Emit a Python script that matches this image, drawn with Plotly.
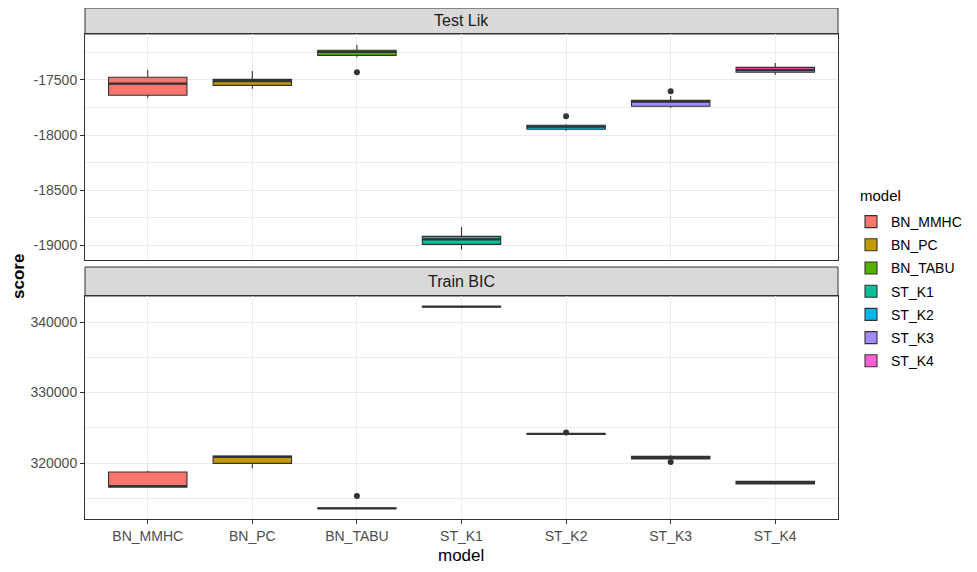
import plotly.graph_objects as go

models = ["BN_MMHC", "BN_PC", "BN_TABU", "ST_K1", "ST_K2", "ST_K3", "ST_K4"]
colors = ["#F8766D", "#C49A00", "#53B400", "#00C094", "#00B6EB", "#A58AFF", "#FB61D7"]

# Test Lik panel box statistics
lik_lf = [-17661, -17579, -17294, -19043, -17961, -17752, -17452]
lik_q1 = [-17639, -17549, -17276, -18994, -17948, -17739, -17430]
lik_med = [-17533, -17509, -17245, -18948, -17924, -17697, -17409]
lik_q3 = [-17475, -17494, -17230, -18921, -17912, -17685, -17385]
lik_uf = [-17409, -17418, -17182, -18836, -17903, -17645, -17345]
lik_out_model = ["BN_TABU", "ST_K2", "ST_K3"]
lik_out_value = [-17430, -17830, -17603]

# Train BIC panel box statistics
bic_lf = [316560, 319240, 313530, 342110, 324060, 320500, 317000]
bic_q1 = [316600, 319950, 313545, 342140, 324085, 320573, 317030]
bic_med = [316700, 320860, 313570, 342170, 324120, 320715, 317200]
bic_q3 = [318725, 321000, 313600, 342200, 324160, 320944, 317400]
bic_uf = [318900, 321000, 313620, 342270, 324220, 321140, 317430]
bic_out_model = ["BN_TABU", "ST_K2", "ST_K3"]
bic_out_value = [315330, 324330, 320148]

lik_ticks = [-19000, -18500, -18000, -17500]
lik_ticktext = ["-19000", "-18500", "-18000", "-17500"]
bic_ticks = [320000, 330000, 340000]
bic_ticktext = ["320000", "330000", "340000"]

panel_titles = ["Test Lik", "Train BIC"]

FONT = "Liberation Sans, Arial, sans-serif"
DARK = "#333333"
BOXW = 0.75

idx = {m: i for i, m in enumerate(models)}

fig = go.Figure()


def median_segments(meds):
    xs, ys = [], []
    for i, v in enumerate(meds):
        xs += [i - BOXW / 2, i + BOXW / 2, None]
        ys += [v, v, None]
    return xs, ys


panels = [
    (lik_lf, lik_q1, lik_med, lik_q3, lik_uf, lik_out_model, lik_out_value, "x", "y", True),
    (bic_lf, bic_q1, bic_med, bic_q3, bic_uf, bic_out_model, bic_out_value, "x2", "y2", False),
]

for lf, q1, med, q3, uf, om, ov, xa, ya, leg in panels:
    for i, m in enumerate(models):
        fig.add_trace(go.Box(
            x=[i], q1=[q1[i]], median=[med[i]], q3=[q3[i]],
            lowerfence=[lf[i]], upperfence=[uf[i]],
            name=m, legendgroup=m, showlegend=leg,
            fillcolor=colors[i], line=dict(color=DARK, width=1.1),
            whiskerwidth=0, width=BOXW, boxpoints=False,
            xaxis=xa, yaxis=ya, hoverinfo="skip",
        ))
    mx, my = median_segments(med)
    fig.add_trace(go.Scatter(x=mx, y=my, mode="lines", line=dict(color=DARK, width=2.3),
                             showlegend=False, xaxis=xa, yaxis=ya, hoverinfo="skip"))
    fig.add_trace(go.Scatter(x=[idx[m] for m in om], y=ov, mode="markers",
                             marker=dict(color=DARK, size=6), showlegend=False,
                             xaxis=xa, yaxis=ya, hoverinfo="skip"))

# pixel layout helpers (page has an 8px body margin)
OFF = 8
W, H = 977, 572
mt, mb, ml, mr = 0, 61, 77, 147
ph = H - mt - mb
pw = W - ml - mr


def py(sy):
    return (H - mb - (sy - OFF)) / ph


def px(sx):
    return (sx - OFF - ml) / pw


top_dom = [py(260), py(34)]
bot_dom = [py(519), py(296)]

grid = "#EBEBEB"
common_x = dict(range=[-0.6, 6.6], tickvals=list(range(len(models))), ticktext=models,
                showgrid=True, gridcolor=grid, gridwidth=1,
                showline=True, linecolor=DARK, linewidth=1, mirror=True,
                zeroline=False, fixedrange=True)
common_y = dict(showgrid=True, gridcolor=grid, gridwidth=1,
                showline=True, linecolor=DARK, linewidth=1, mirror=True,
                zeroline=False, ticks="outside", ticklen=4, tickcolor=DARK,
                tickfont=dict(family=FONT, size=14, color="#4D4D4D"))

fig.update_layout(
    width=W, height=H,
    margin=dict(t=mt, b=mb, l=ml, r=mr, pad=0),
    paper_bgcolor="white", plot_bgcolor="white",
    boxmode="overlay",
    font=dict(family=FONT, color="#1A1A1A"),
    xaxis=dict(common_x, domain=[0, 1], anchor="y", matches="x2",
               showticklabels=False, ticks=""),
    yaxis=dict(common_y, domain=top_dom, anchor="x", range=[-19136, -17082],
               tickvals=lik_ticks, ticktext=lik_ticktext,
               minor=dict(dtick=250, tick0=-19000, showgrid=True, gridcolor=grid, gridwidth=0.6)),
    xaxis2=dict(common_x, domain=[0, 1], anchor="y2", ticks="outside", ticklen=4,
                tickcolor=DARK, tickfont=dict(family=FONT, size=14, color="#4D4D4D")),
    yaxis2=dict(common_y, domain=bot_dom, anchor="x2", range=[312057, 343690],
                tickvals=bic_ticks, ticktext=bic_ticktext,
                minor=dict(dtick=5000, tick0=310000, showgrid=True, gridcolor=grid, gridwidth=0.6)),
    legend=dict(font=dict(family=FONT, size=14, color="black"),
                x=px(851), xanchor="left", xref="paper",
                y=py(206), yanchor="top", yref="paper",
                bgcolor="rgba(0,0,0,0)", tracegroupgap=2, traceorder="grouped"),
    showlegend=True,
)

# legend title
fig.add_annotation(xref="paper", yref="paper", x=px(858), y=py(195), text="model",
                   showarrow=False, font=dict(family=FONT, size=15, color="black"),
                   xanchor="left", yanchor="middle")

# facet strips
strips = [(py(34), py(8), panel_titles[0]), (py(296), py(267), panel_titles[1])]
for y0, y1, txt in strips:
    fig.add_shape(type="rect", xref="paper", yref="paper", x0=0, x1=1, y0=y0, y1=y1,
                  fillcolor="#D9D9D9", line=dict(color=DARK, width=1), layer="below")
    fig.add_annotation(xref="paper", yref="paper", x=0.5, y=(y0 + y1) / 2, text=txt,
                       showarrow=False, font=dict(family=FONT, size=16, color="#1A1A1A"),
                       xanchor="center", yanchor="middle")

# axis titles
fig.add_annotation(xref="paper", yref="paper", x=px(18), y=py(277), text="<b>score</b>",
                   textangle=-90, showarrow=False,
                   font=dict(family=FONT, size=17, color="black"),
                   xanchor="center", yanchor="middle")
fig.add_annotation(xref="paper", yref="paper", x=px(461), y=py(555), text="model",
                   showarrow=False, font=dict(family=FONT, size=17, color="black"),
                   xanchor="center", yanchor="middle")

fig.write_html("out.html")
